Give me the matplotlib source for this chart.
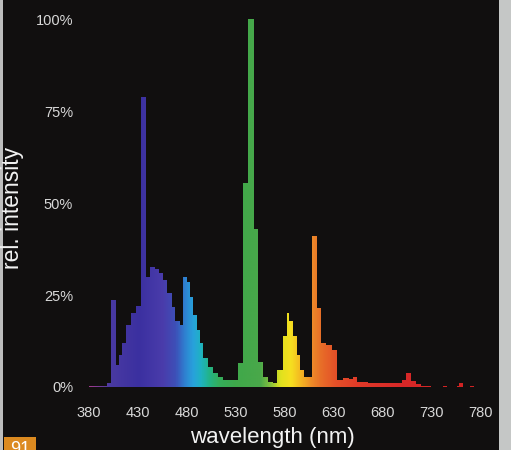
import matplotlib.pyplot as plt
import numpy as np
from matplotlib.colors import LinearSegmentedColormap
from matplotlib.patches import Rectangle

plt.rcParams['font.family'] = ['Liberation Sans', 'DejaVu Sans']

# spectrum as stepped bins: bin edges (nm) and relative intensity (%)
edges = [380, 398, 403, 408, 411, 414, 418, 423, 428, 433,
         438, 442, 447, 452, 456, 460, 465, 468, 473, 476,
         480, 483, 486, 490, 494, 497, 502, 507, 512, 517,
         532, 537, 543, 549, 553, 558, 563, 568, 572, 578,
         582, 585, 589, 593, 596, 600, 608, 613, 617, 622,
         628, 634, 640, 646, 650, 654, 665, 700, 704, 709,
         714, 720, 730, 742, 746, 756, 758, 762, 770, 774, 780]
intensity = [0.3, 1.0, 23.6, 6, 8.7, 12, 17, 20, 22, 79,
             30, 32.6, 32, 31, 29, 25.5, 21.7, 18, 17, 30,
             28.5, 24.5, 19.5, 15.5, 12, 8, 5.4, 3.8, 2.7, 2,
             6.5, 55.5, 100, 43, 6.8, 2.7, 1.4, 1.2, 4.5, 14,
             20, 18, 14, 8.7, 4.6, 2.7, 41, 21.5, 12, 11.4,
             10, 2.0, 2.4, 2.2, 2.6, 1.4, 1.1, 2, 3.8, 1.5,
             0.8, 0.3, 0, 0.3, 0, 0.3, 1.2, 0, 0.3, 0]

xticks = [380, 430, 480, 530, 580, 630, 680, 730, 780]
yticks = [0, 25, 50, 75, 100]
ytick_labels = ['0%', '25%', '50%', '75%', '100%']

# approximate visible-spectrum colours along the wavelength axis
spectrum_stops = [
    (380, '#a03a8c'), (400, '#4a3aa2'), (430, '#3b30a0'), (455, '#4a3cab'),
    (468, '#3d50b8'), (477, '#2f7fd0'), (486, '#28a2dc'), (494, '#1fb2c2'),
    (502, '#22b48a'), (512, '#34ae5c'), (530, '#3fa84a'), (555, '#4aa84a'),
    (566, '#8cc43c'), (575, '#dfe21e'), (586, '#f6e020'), (596, '#f4b822'),
    (606, '#ee9028'), (616, '#e87028'), (632, '#e45028'), (655, '#e03a28'),
    (700, '#d82828'), (780, '#d02222'),
]
lo, hi = 380, 780
spec_cmap = LinearSegmentedColormap.from_list(
    'spec', [((w - lo) / (hi - lo), c) for w, c in spectrum_stops])

bg = '#110f0f'
fig = plt.figure(figsize=(5.11, 4.5), dpi=100, facecolor=bg)
ax = fig.add_axes([80 / 511, 0.14, 415 / 511, 0.8333])
ax.set_facecolor(bg)

ax.set_xlim(370.8, 795.2)
ax.set_ylim(0, 102)

# stepped outline used as a clip for the colour gradient
step = ax.stairs(intensity, edges, fill=True, color='none', baseline=0)
grad = np.linspace(0, 1, 800).reshape(1, -1)
im = ax.imshow(grad, extent=[lo, hi, 0, 101], aspect='auto', cmap=spec_cmap,
               interpolation='bilinear', origin='lower')
im.set_clip_path(step)

for s in ax.spines.values():
    s.set_visible(False)
ax.set_xticks(xticks)
ax.set_xticklabels([str(t) for t in xticks])
ax.set_yticks(yticks)
ax.set_yticklabels(ytick_labels)
ax.tick_params(axis='x', length=0, pad=14, labelsize=10.5, labelcolor='#d8d8d8')
ax.tick_params(axis='y', length=0, pad=5, labelsize=10.5, labelcolor='#d8d8d8')

fig.text(13 / 511, 1 - 208 / 450, 'rel. intensity', rotation=90,
         ha='center', va='center', fontsize=16.5, color='#f2f2f2')
fig.text(272 / 511, 1 - 437 / 450, 'wavelength (nm)',
         ha='center', va='center', fontsize=16, color='#f2f2f2')

# side strips and page-number tab
fig.add_artist(Rectangle((0, 0), 3 / 511, 1, transform=fig.transFigure,
                         color='#bdbdbd', lw=0))
fig.add_artist(Rectangle((499 / 511, 0), 12 / 511, 1, transform=fig.transFigure,
                         color='#c5c7c6', lw=0))
tab = Rectangle((4 / 511, 0), 32 / 511, 13 / 450, transform=fig.transFigure,
                color='#dc8a20', lw=0)
fig.add_artist(tab)
num = fig.text(20 / 511, 1 - 441 / 450, '91', ha='center', va='top',
               fontsize=13, color='white')
num.set_clip_path(tab)

fig.savefig('out.png', dpi=100, facecolor=bg)
